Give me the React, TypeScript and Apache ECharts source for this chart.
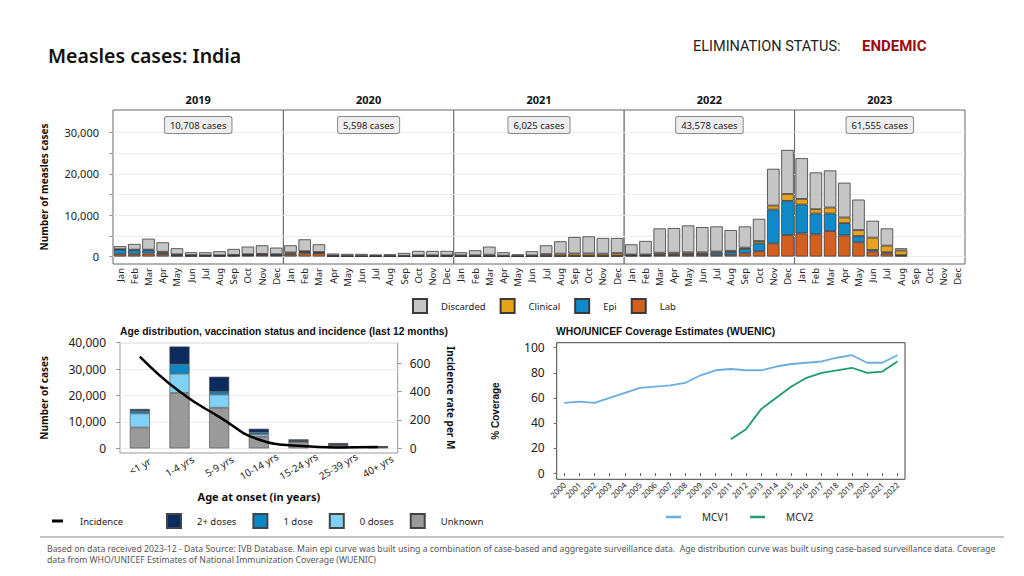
import React, { useEffect, useRef } from "react";
import * as echarts from "echarts";

// ---------- DATA ----------
const years = ["2019", "2020", "2021", "2022", "2023"];
const months = ["Jan", "Feb", "Mar", "Apr", "May", "Jun", "Jul", "Aug", "Sep", "Oct", "Nov", "Dec"];
const caseLabels = ["10,708 cases", "5,598 cases", "6,025 cases", "43,578 cases", "61,555 cases"];

const lab = [
  [560, 560, 720, 560, 240, 160, 160, 160, 200, 320, 400, 320],
  [500, 800, 800, 100, 50, 50, 50, 50, 50, 100, 100, 100],
  [50, 50, 100, 50, 30, 50, 150, 150, 150, 150, 150, 150],
  [200, 200, 320, 320, 320, 320, 320, 400, 800, 1280, 3200, 5200],
  [5600, 5360, 6160, 5120, 3440, 1200, 720, 240, null, null, null, null],
];
const epi = [
  [1120, 960, 800, 400, 100, 50, 50, 50, 50, 50, 50, 50],
  [200, 300, 100, 50, 50, 50, 50, 50, 50, 50, 50, 50],
  [50, 50, 50, 30, 20, 30, 50, 50, 50, 50, 50, 100],
  [100, 100, 200, 200, 300, 300, 600, 700, 1040, 1920, 8160, 8240],
  [6960, 5040, 4240, 2960, 1520, 400, 320, 100, null, null, null, null],
];
const clinical = [
  [100, 150, 150, 200, 200, 150, 100, 100, 150, 200, 200, 200],
  [300, 200, 200, 100, 100, 100, 100, 100, 100, 150, 150, 150],
  [200, 200, 300, 150, 100, 200, 400, 500, 550, 550, 500, 600],
  [200, 200, 400, 400, 400, 400, 300, 300, 320, 560, 960, 1680],
  [1360, 1040, 1440, 1360, 1440, 2960, 1600, 1120, null, null, null, null],
];
const discarded = [
  [720, 1370, 2650, 2280, 1460, 680, 730, 970, 1440, 1830, 2070, 1590],
  [1720, 2860, 1860, 470, 440, 440, 280, 360, 680, 1060, 1060, 1060],
  [740, 1220, 1950, 810, 410, 1000, 2120, 2980, 3970, 4130, 3780, 3630],
  [2460, 3260, 5880, 5960, 6500, 6100, 6060, 5000, 5120, 5360, 8880, 10640],
  [9840, 8880, 8960, 8400, 7360, 4080, 4160, 540, null, null, null, null],
];
const topTicks = [0, 5000, 10000, 15000, 20000, 25000, 30000];
const topLabels = [0, 10000, 20000, 30000];

const ageGroups = ["<1 yr", "1-4 yrs", "5-9 yrs", "10-14 yrs", "15-24 yrs", "25-39 yrs", "40+ yrs"];
const unknownDoses = [7900, 21000, 15400, 4450, 2500, 1250, 500];
const zeroDoses = [5300, 7250, 4950, 900, 150, 100, 50];
const oneDose = [900, 3550, 1050, 650, 150, 100, 50];
const twoPlusDoses = [800, 6750, 5700, 1400, 600, 550, 200];
const incidence = [647, 400, 222, 62, 18, 6, 9];
const ageLeftTicks = [0, 10000, 20000, 30000, 40000];
const ageRightTicks = [0, 200, 400, 600];

const coverageYears = [
  "2000", "2001", "2002", "2003", "2004", "2005", "2006", "2007", "2008", "2009", "2010", "2011",
  "2012", "2013", "2014", "2015", "2016", "2017", "2018", "2019", "2020", "2021", "2022",
];
const mcv1 = [56, 57, 56, 60, 64, 68, 69, 70, 72, 78, 82, 83, 82, 82, 85, 87, 88, 89, 92, 94, 88, 88, 94];
const mcv2 = [null, null, null, null, null, null, null, null, null, null, null, 27, 35, 51, 60, 69, 76, 80, 82, 84, 80, 81, 89];
const coverageTicks = [0, 20, 40, 60, 80, 100];

// ---------- STYLE ----------
const FONT = "Noto Sans";
const C_LAB = "#d4601f";
const C_EPI = "#0f8bcb";
const C_CLIN = "#e9a31b";
const C_DISC = "#c6c6c6";
const C_TWO = "#0c2c5e";
const C_ONE = "#0a88c6";
const C_ZERO = "#7fd1f6";
const C_UNK = "#9a9a9a";

const TOP_LEFT = 113;
const PANEL_W = 170.4;
const TOP_TOP = 110;
const TOP_H = 154;

export default function App() {
  const ref = useRef<HTMLDivElement>(null);

  useEffect(() => {
    if (!ref.current) return;
    const chart = echarts.init(ref.current, null, { renderer: "svg" });

    const grids: any[] = [];
    const xAxes: any[] = [];
    const yAxes: any[] = [];
    const series: any[] = [];
    const graphics: any[] = [];

    years.forEach((yr, i) => {
      const left = TOP_LEFT + i * PANEL_W;
      grids.push({
        left,
        top: TOP_TOP,
        width: PANEL_W,
        height: TOP_H,
        show: true,
        borderColor: "#666",
        borderWidth: 1,
        backgroundColor: "#fff",
      });
      xAxes.push({
        type: "category",
        gridIndex: i,
        data: months,
        boundaryGap: true,
        axisLine: { show: false },
        axisTick: { show: false },
        axisLabel: { rotate: 90, fontSize: 9.5, color: "#222", margin: 4, interval: 0, fontFamily: FONT },
      });
      yAxes.push({
        type: "value",
        gridIndex: i,
        min: -1800,
        max: 35400,
        axisLine: { show: false },
        axisTick: { show: i === 0, customValues: topTicks, length: 4, lineStyle: { color: "#999" } },
        axisLabel: {
          show: i === 0,
          customValues: topLabels,
          fontSize: 11,
          color: "#222",
          margin: 14,
          fontFamily: FONT,
          formatter: (v: number) => v.toLocaleString("en-US"),
        },
        splitLine: { show: true, lineStyle: { color: "#ececec", width: 1 } },
        name: i === 0 ? "Number of measles cases" : "",
        nameLocation: "middle",
        nameGap: 64,
        nameTextStyle: { fontSize: 10, fontWeight: "bold", color: "#111", fontFamily: FONT },
      });
      const parts: [string, any[], string][] = [
        ["Lab", lab[i], C_LAB],
        ["Epi", epi[i], C_EPI],
        ["Clinical", clinical[i], C_CLIN],
        ["Discarded", discarded[i], C_DISC],
      ];
      parts.forEach(([name, data, color]) => {
        series.push({
          type: "bar",
          name,
          stack: "s" + i,
          xAxisIndex: i,
          yAxisIndex: i,
          data,
          barCategoryGap: "12%",
          itemStyle: { color, borderColor: "#3a3a3a", borderWidth: 0.8 },
        });
      });
      graphics.push({
        type: "text",
        x: left + PANEL_W / 2,
        y: 99,
        style: {
          text: yr,
          align: "center",
          verticalAlign: "middle",
          fontSize: 11,
          fontWeight: "bold",
          fontFamily: FONT,
          fill: "#111",
        },
      });
      graphics.push({
        type: "text",
        x: left + PANEL_W / 2,
        y: 125,
        z: 100,
        style: {
          text: caseLabels[i],
          align: "center",
          verticalAlign: "middle",
          fontSize: 9.5,
          fontFamily: FONT,
          fill: "#222",
          backgroundColor: "#eeeeee",
          borderColor: "#8a8a8a",
          borderWidth: 1,
          borderRadius: 2,
          padding: [3, 5, 3, 5],
        },
      });
    });

    // ---- Age distribution chart (grid 5)
    grids.push({
      left: 120,
      top: 342.7,
      width: 277.7,
      height: 110.3,
      show: true,
      borderColor: "#999",
      borderWidth: 1,
    });
    xAxes.push({
      type: "category",
      gridIndex: 5,
      data: ageGroups,
      axisLine: { show: false },
      axisTick: { show: false },
      axisLabel: {
        rotate: 30,
        fontSize: 10,
        color: "#222",
        margin: 13,
        interval: 0,
        fontFamily: FONT,
        align: "center",
        verticalAlign: "middle",
      },
      name: "Age at onset (in years)",
      nameLocation: "middle",
      nameGap: 38,
      nameTextStyle: { fontSize: 11, fontWeight: "bold", color: "#111", fontFamily: FONT },
    });
    yAxes.push({
      type: "value",
      gridIndex: 5,
      min: -1760,
      max: 40000,
      axisLine: { show: false },
      axisTick: { show: true, customValues: ageLeftTicks, length: 4, lineStyle: { color: "#999" } },
      axisLabel: {
        customValues: ageLeftTicks,
        fontSize: 12,
        color: "#222",
        margin: 14,
        fontFamily: FONT,
        formatter: (v: number) => v.toLocaleString("en-US"),
      },
      splitLine: { show: true, lineStyle: { color: "#ececec" } },
      name: "Number of cases",
      nameLocation: "middle",
      nameGap: 71,
      nameTextStyle: { fontSize: 10, fontWeight: "bold", color: "#111", fontFamily: FONT },
    });
    yAxes.push({
      type: "value",
      gridIndex: 5,
      position: "right",
      min: -33,
      max: 745,
      axisLine: { show: false },
      axisTick: { show: true, customValues: ageRightTicks, length: 4, lineStyle: { color: "#999" } },
      axisLabel: { customValues: ageRightTicks, fontSize: 12, color: "#222", margin: 12, fontFamily: FONT },
      splitLine: { show: false },
      name: "Incidence rate per M",
      nameLocation: "middle",
      nameRotate: -90,
      nameGap: 48,
      nameTextStyle: { fontSize: 10, fontWeight: "bold", color: "#111", fontFamily: FONT },
    });
    const ageParts: [string, number[], string][] = [
      ["Unknown", unknownDoses, C_UNK],
      ["0 doses", zeroDoses, C_ZERO],
      ["1 dose", oneDose, C_ONE],
      ["2+ doses", twoPlusDoses, C_TWO],
    ];
    ageParts.forEach(([name, data, color]) => {
      series.push({
        type: "bar",
        name,
        stack: "age",
        xAxisIndex: 5,
        yAxisIndex: 5,
        data,
        barWidth: 20,
        itemStyle: { color, borderColor: "#444", borderWidth: 0.6 },
      });
    });
    series.push({
      type: "line",
      name: "Incidence",
      xAxisIndex: 5,
      yAxisIndex: 6,
      data: incidence,
      smooth: true,
      symbol: "none",
      z: 10,
      itemStyle: { color: "#000" },
      lineStyle: { color: "#000", width: 2.5 },
    });

    // ---- Coverage chart (grid 6)
    grids.push({
      left: 556.7,
      top: 342.7,
      width: 348.3,
      height: 136.6,
      show: true,
      borderColor: "#444",
      borderWidth: 1,
    });
    xAxes.push({
      type: "category",
      gridIndex: 6,
      data: coverageYears,
      boundaryGap: true,
      axisLine: { show: false },
      axisTick: { show: true, alignWithLabel: true, length: 3, lineStyle: { color: "#666" } },
      axisLabel: { rotate: 45, fontSize: 8, color: "#222", margin: 4, interval: 0, fontFamily: FONT },
    });
    yAxes.push({
      type: "value",
      gridIndex: 6,
      min: -5,
      max: 104,
      axisLine: { show: false },
      axisTick: { show: true, customValues: coverageTicks, length: 3, lineStyle: { color: "#666" } },
      axisLabel: { customValues: coverageTicks, fontSize: 12, color: "#222", margin: 12, fontFamily: FONT },
      splitLine: { show: false },
      name: "% Coverage",
      nameLocation: "middle",
      nameGap: 56,
      nameTextStyle: { fontSize: 10, fontWeight: "bold", color: "#111", fontFamily: "Liberation Sans" },
    });
    series.push({
      type: "line",
      name: "MCV1",
      xAxisIndex: 6,
      yAxisIndex: 7,
      data: mcv1,
      symbol: "none",
      itemStyle: { color: "#6aaee0" },
      lineStyle: { color: "#6aaee0", width: 1.8 },
    });
    series.push({
      type: "line",
      name: "MCV2",
      xAxisIndex: 6,
      yAxisIndex: 7,
      data: mcv2,
      symbol: "none",
      itemStyle: { color: "#1b9e6b" },
      lineStyle: { color: "#1b9e6b", width: 1.8 },
    });

    // ---- Other graphics
    graphics.push(
      {
        type: "text",
        x: 48,
        y: 55,
        style: { text: "Measles cases: India", verticalAlign: "middle", fontSize: 19.5, fontWeight: 600, fontFamily: FONT, fill: "#111" },
      },
      {
        type: "text",
        x: 693,
        y: 46,
        style: { text: "ELIMINATION STATUS:", verticalAlign: "middle", fontSize: 14.5, fontFamily: "Roboto", fill: "#222" },
      },
      {
        type: "text",
        x: 862,
        y: 46,
        style: { text: "ENDEMIC", verticalAlign: "middle", fontSize: 15, fontWeight: "bold", fontFamily: "Roboto", fill: "#9c0b0b" },
      },
      {
        type: "text",
        x: 120,
        y: 331,
        style: {
          text: "Age distribution, vaccination status and incidence (last 12 months)",
          verticalAlign: "middle",
          fontSize: 10.3,
          fontWeight: "bold",
          fontFamily: "Liberation Sans",
          fill: "#111",
        },
      },
      {
        type: "text",
        x: 556,
        y: 331,
        style: {
          text: "WHO/UNICEF Coverage Estimates (WUENIC)",
          verticalAlign: "middle",
          fontSize: 10.3,
          fontWeight: "bold",
          fontFamily: "Liberation Sans",
          fill: "#111",
        },
      },
      {
        type: "line",
        shape: { x1: 40, y1: 537, x2: 1004, y2: 537 },
        style: { stroke: "#888", lineWidth: 1 },
      },
      {
        type: "text",
        x: 47,
        y: 549,
        style: {
          text:
            "Based on data received 2023-12 - Data Source: IVB Database. Main epi curve was built using a combination of case-based and aggregate surveillance data.  Age distribution curve was built using case-based surveillance data. Coverage",
          verticalAlign: "middle",
          fontSize: 8.7,
          fontFamily: FONT,
          fill: "#555",
        },
      },
      {
        type: "text",
        x: 47,
        y: 559.5,
        style: {
          text: "data from WHO/UNICEF Estimates of National Immunization Coverage (WUENIC)",
          verticalAlign: "middle",
          fontSize: 8.7,
          fontFamily: FONT,
          fill: "#555",
        },
      }
    );

    const legendText = { fontSize: 9.5, color: "#222", fontFamily: FONT };

    chart.setOption({
      animation: false,
      backgroundColor: "#fff",
      textStyle: { fontFamily: FONT },
      grid: grids,
      xAxis: xAxes,
      yAxis: yAxes,
      series,
      graphic: graphics,
      legend: [
        {
          data: ["Discarded", "Clinical", "Epi", "Lab"],
          left: 407,
          top: 293,
          icon: "rect",
          itemWidth: 14,
          itemHeight: 14,
          itemGap: 14,
          textStyle: { ...legendText, padding: [0, 0, 0, 9] },
        },
        {
          data: ["Incidence"],
          left: 47,
          top: 511,
          icon: "rect",
          itemWidth: 11,
          itemHeight: 3,
          textStyle: { ...legendText, padding: [0, 0, 0, 12] },
        },
        {
          data: ["2+ doses", "1 dose", "0 doses", "Unknown"],
          left: 161,
          top: 508,
          icon: "rect",
          itemWidth: 14,
          itemHeight: 14,
          itemGap: 16,
          textStyle: { ...legendText, padding: [0, 0, 0, 11] },
        },
        {
          data: ["MCV1", "MCV2"],
          left: 661,
          top: 507,
          icon: "rect",
          itemWidth: 15,
          itemHeight: 2.5,
          itemGap: 21,
          textStyle: { fontSize: 10, color: "#222", fontFamily: FONT, padding: [0, 0, 0, 16] },
        },
      ],
    });

    return () => chart.dispose();
  }, []);

  return (
    <div
      ref={ref}
      style={{ position: "fixed", left: 0, top: 0, width: 1024, height: 576, background: "#fff" }}
    />
  );
}
